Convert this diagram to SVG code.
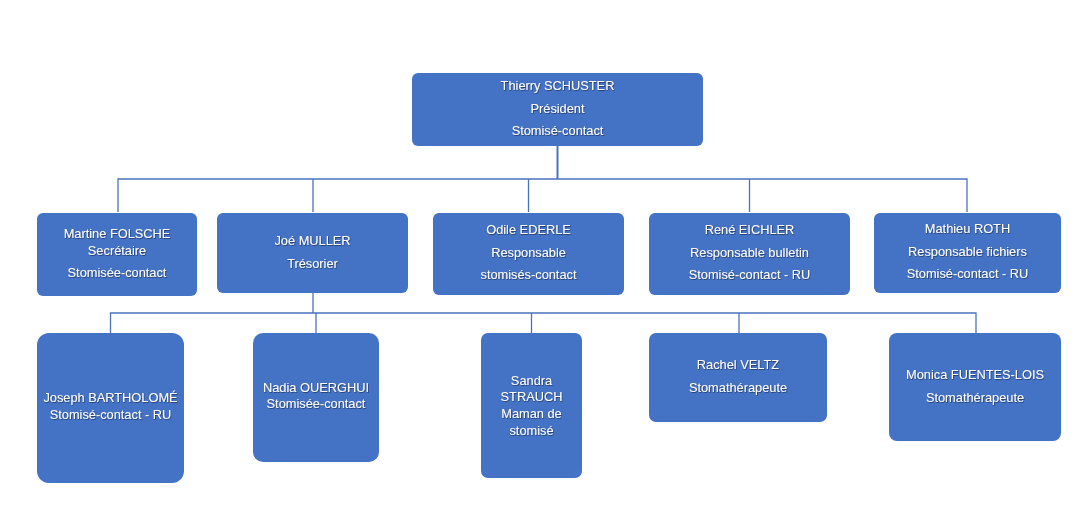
<svg xmlns="http://www.w3.org/2000/svg" width="1080" height="507" viewBox="0 0 1080 507">
<defs>
<style>
.box{fill:#4472C4;}
.t{font-family:"Liberation Sans",Arial,sans-serif;font-size:12.8px;fill:#ffffff;text-anchor:middle;}
.c{stroke:#4A73BD;stroke-width:1.3;fill:none;}
</style>
<filter id="sh" x="-10%" y="-10%" width="120%" height="130%">
<feDropShadow dx="0.7" dy="0.9" stdDeviation="0.6" flood-color="#1f2f55" flood-opacity="0.75"/>
</filter>
</defs>
<rect width="1080" height="507" fill="#ffffff"/>
<g id="connectors">
<path class="c" d="M557.5 146 V179" style="stroke-width:2"/>
<path class="c" d="M118 212 V179 H967 V212"/>
<path class="c" d="M313 212 V179"/>
<path class="c" d="M528.5 212 V179"/>
<path class="c" d="M749.5 212 V179"/>
<path class="c" d="M313 293 V313"/>
<path class="c" d="M110.5 333 V313 H976 V333"/>
<path class="c" d="M316 333 V313"/>
<path class="c" d="M531.5 333 V313"/>
<path class="c" d="M739 333 V313"/>
</g>
<g id="n-schuster">
<rect class="box" x="412" y="73" width="291" height="73" rx="6"/>
<g class="t" filter="url(#sh)"><text x="557.5" y="90">Thierry SCHUSTER</text><text x="557.5" y="113">Président</text><text x="557.5" y="135">Stomisé-contact</text></g>
</g>
<g id="n-folsche">
<rect class="box" x="37" y="213" width="160" height="83" rx="6"/>
<g class="t" filter="url(#sh)"><text x="117" y="238">Martine FOLSCHE</text><text x="117" y="255">Secrétaire</text><text x="117" y="277">Stomisée-contact</text></g>
</g>
<g id="n-muller">
<rect class="box" x="217" y="213" width="191" height="80" rx="6"/>
<g class="t" filter="url(#sh)"><text x="312.5" y="245">Joé MULLER</text><text x="312.5" y="268">Trésorier</text></g>
</g>
<g id="n-ederle">
<rect class="box" x="433" y="213" width="191" height="82" rx="6"/>
<g class="t" filter="url(#sh)"><text x="528.5" y="234">Odile EDERLE</text><text x="528.5" y="257">Responsable</text><text x="528.5" y="279">stomisés-contact</text></g>
</g>
<g id="n-eichler">
<rect class="box" x="649" y="213" width="201" height="82" rx="6"/>
<g class="t" filter="url(#sh)"><text x="749.5" y="234">René EICHLER</text><text x="749.5" y="257">Responsable bulletin</text><text x="749.5" y="279">Stomisé-contact - RU</text></g>
</g>
<g id="n-roth">
<rect class="box" x="874" y="213" width="187" height="80" rx="6"/>
<g class="t" filter="url(#sh)"><text x="967.5" y="233">Mathieu ROTH</text><text x="967.5" y="256">Responsable fichiers</text><text x="967.5" y="278">Stomisé-contact - RU</text></g>
</g>
<g id="n-bartholome">
<rect class="box" x="37" y="333" width="147" height="150" rx="12"/>
<g class="t" filter="url(#sh)"><text x="110.5" y="402">Joseph BARTHOLOMÉ</text><text x="110.5" y="419">Stomisé-contact - RU</text></g>
</g>
<g id="n-ouerghui">
<rect class="box" x="253" y="333" width="126" height="129" rx="10"/>
<g class="t" filter="url(#sh)"><text x="316" y="392">Nadia OUERGHUI</text><text x="316" y="408">Stomisée-contact</text></g>
</g>
<g id="n-strauch">
<rect class="box" x="481" y="333" width="101" height="145" rx="7"/>
<g class="t" filter="url(#sh)"><text x="531.5" y="385">Sandra</text><text x="531.5" y="401">STRAUCH</text><text x="531.5" y="418">Maman de</text><text x="531.5" y="435">stomisé</text></g>
</g>
<g id="n-veltz">
<rect class="box" x="649" y="333" width="178" height="89" rx="7"/>
<g class="t" filter="url(#sh)"><text x="738" y="369">Rachel VELTZ</text><text x="738" y="392">Stomathérapeute</text></g>
</g>
<g id="n-fuentes">
<rect class="box" x="889" y="333" width="172" height="108" rx="8"/>
<g class="t" filter="url(#sh)"><text x="975" y="379">Monica FUENTES-LOIS</text><text x="975" y="402">Stomathérapeute</text></g>
</g>
</svg>
